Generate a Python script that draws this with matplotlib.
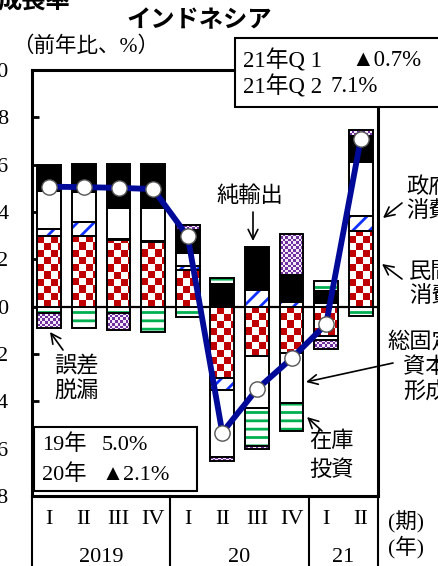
import numpy as np
import matplotlib
matplotlib.use("Agg")
import matplotlib.pyplot as plt
from matplotlib.colors import ListedColormap
from matplotlib.patches import Rectangle

# ---------------- data ----------------
quarters = ["I", "II", "III", "IV", "I", "II", "III", "IV", "I", "II"]
years = ["2019", "20", "21"]
year_spans = [(0, 3), (4, 7), (8, 9)]
gdp = [5.07, 5.05, 5.02, 4.97, 2.97, -5.32, -3.49, -2.19, -0.74, 7.07]
private_cons = [2.99, 2.97, 2.83, 2.75, 1.55, -3.00, -2.10, -1.95, -1.25, 3.20]
gov_cons = [0.28, 0.61, 0.05, 0.03, 0.18, -0.50, 0.72, 0.18, 0.17, 0.64]
gfcf = [1.62, 1.26, 1.31, 1.41, 0.55, -2.85, -2.18, -2.11, -0.14, 2.26]
net_exports = [1.08, 1.17, 1.85, 1.74, 0.97, 0.97, 1.82, 1.17, 0.49, 1.10]
inventory = [-0.27, -0.92, -0.27, -1.06, -0.43, 0.24, -1.60, -1.21, 0.42, -0.38]
errors = [-0.62, 0.00, -0.72, 0.11, 0.20, -0.17, -0.14, 1.73, -0.40, 0.28]
yticks = [-8, -6, -4, -2, 0, 2, 4, 6, 8, 10]
ytick_labels = ["▲8", "▲6", "▲4", "▲2", "0", "2", "4", "6", "8", "10"]

W, H = 438, 566
FONT = ["Liberation Serif", "Noto Sans CJK JP"]
GOTHIC = ["Noto Sans CJK JP"]
plt.rcParams["font.family"] = FONT
plt.rcParams["hatch.linewidth"] = 2.0

fig = plt.figure(figsize=(W / 100, H / 100), dpi=100)
ax = fig.add_axes([32 / W, 1 - 496 / H, (378 - 32) / W, (496 - 70) / H])
ax.set_xlim(-0.5, 9.5)
ax.set_ylim(-8, 10)

x = np.arange(len(gdp))
bw = 0.69


def checker(ax, rect, x0, y0, h, cw, ch, ncols, colors):
    nrows = int(np.ceil(abs(h) / ch)) + 1
    img = (np.add.outer(np.arange(nrows), np.arange(ncols)) % 2).astype(float)
    sgn = 1 if h >= 0 else -1
    y1 = y0 + sgn * nrows * ch
    if sgn > 0:
        ext = (x0, x0 + ncols * cw, y0, y1)
        origin = "lower"
    else:
        ext = (x0, x0 + ncols * cw, y1, y0)
        origin = "upper"
    im = ax.imshow(img, extent=ext, origin=origin, aspect="auto",
                   cmap=ListedColormap(colors), interpolation="nearest",
                   zorder=2, vmin=0, vmax=1)
    im.set_clip_path(rect)


components = [
    ("private", private_cons),
    ("gov", gov_cons),
    ("gfcf", gfcf),
    ("net", net_exports),
    ("inv", inventory),
    ("err", errors),
]

pos_base = np.zeros(len(gdp))
neg_base = np.zeros(len(gdp))
for name, vals in components:
    for i, v in enumerate(vals):
        if v == 0:
            continue
        b = pos_base[i] if v > 0 else neg_base[i]
        if v > 0:
            pos_base[i] += v
        else:
            neg_base[i] += v
        if name == "private":
            bars = ax.bar(x[i], v, bw, bottom=b, facecolor="white",
                          edgecolor="none", zorder=2)
            checker(ax, bars[0], x[i] - bw / 2, b, v, bw / 3.5, 0.3, 4,
                    ["white", "#C00000"])
        elif name == "err":
            bars = ax.bar(x[i], v, bw, bottom=b, facecolor="white",
                          edgecolor="none", zorder=2)
            checker(ax, bars[0], x[i] - bw / 2, b, v, bw / 9, 0.11, 9,
                    ["#7030A0", "#F4ECF8"])
        elif name == "gov":
            ax.bar(x[i], v, bw, bottom=b, facecolor="white", edgecolor="#1030FF",
                   hatch="//", linewidth=0, zorder=2)
        elif name == "inv":
            ax.bar(x[i], v, bw, bottom=b, facecolor="white", edgecolor="#00B050",
                   hatch="--", linewidth=0, zorder=2)
        elif name == "net":
            ax.bar(x[i], v, bw, bottom=b, facecolor="black", edgecolor="none",
                   zorder=2)
        else:
            ax.bar(x[i], v, bw, bottom=b, facecolor="white", edgecolor="none",
                   zorder=2)
        ax.bar(x[i], v, bw, bottom=b, facecolor="none", edgecolor="black",
               linewidth=1.4, zorder=3)

ax.axhline(0, color="black", lw=1.6, zorder=1.5)

ax.plot(x, gdp, color="#000A99", lw=4.2, zorder=5, solid_capstyle="round")
ax.plot(x, gdp, ls="none", marker="o", ms=11, mfc="white", mec="#555555",
        mew=1.0, zorder=6)

# axes styling
for s in ax.spines.values():
    s.set_linewidth(2.2)
ax.set_xticks([])
ax.set_yticks(yticks)
ax.set_yticklabels(ytick_labels)
ax.tick_params(axis="y", direction="in", length=5, width=2, pad=17,
               labelsize=16)

# category box below the axes
for xv in [-0.5, 3.5, 7.5, 9.5]:
    ax.plot([xv, xv], [-8, -11.5], color="black", lw=1.5, clip_on=False,
            zorder=4)
for i, q in enumerate(quarters):
    ax.text(x[i], -9.0, q, ha="center", va="center", fontsize=16,
            clip_on=False)
for lab, (a, b) in zip(years, year_spans):
    ax.text((x[a] + x[b]) / 2, -10.6, lab, ha="center", va="center",
            fontsize=16, clip_on=False)


def fx(px):
    return px / W


def fy(py):
    return 1 - py / H


fig.text(fx(388), fy(522), "(期)", fontsize=15.5, va="center", ha="left")
fig.text(fx(388), fy(547), "(年)", fontsize=15.5, va="center", ha="left")

# titles
fig.text(fx(70), fy(2), "成長率", fontsize=17.5, fontweight="bold",
         family=GOTHIC, ha="right", va="center")
fig.text(fx(199), fy(20), "インドネシア", fontsize=17.5, fontweight="bold",
         family=GOTHIC, ha="center", va="center")
fig.text(fx(12), fy(47), "（前年比、%）", fontsize=15.5, ha="left",
         va="center")

# top-right box
fig.patches.append(Rectangle((fx(235), fy(107)), fx(460) - fx(235),
                             fy(38) - fy(107), transform=fig.transFigure,
                             facecolor="white", edgecolor="black", lw=1.5,
                             zorder=7))
fig.text(fx(243), fy(61), "21年Q 1", fontsize=16.5, va="center", zorder=8)
fig.text(fx(351), fy(61), "▲0.7%", fontsize=16.5, va="center", zorder=8)
fig.text(fx(243), fy(87), "21年Q 2", fontsize=16.5, va="center", zorder=8)
fig.text(fx(331), fy(87), "7.1%", fontsize=16.5, va="center", zorder=8)

# bottom-left box
fig.patches.append(Rectangle((fx(34), fy(491)), fx(197) - fx(34),
                             fy(427) - fy(491), transform=fig.transFigure,
                             facecolor="white", edgecolor="black", lw=1.5,
                             zorder=7))
fig.text(fx(42), fy(445), "19年", fontsize=16, va="center", zorder=8)
fig.text(fx(102), fy(445), "5.0%", fontsize=16, va="center", zorder=8)
fig.text(fx(42), fy(475), "20年", fontsize=16, va="center", zorder=8)
fig.text(fx(102), fy(475), "▲2.1%", fontsize=16, va="center", zorder=8)

# annotations
TXT = dict(fontsize=16, va="center", ha="left", zorder=8)
fig.text(fx(216), fy(197), "純輸出", **TXT)
fig.text(fx(406), fy(188), "政府", **TXT)
fig.text(fx(406), fy(212), "消費", **TXT)
fig.text(fx(409), fy(273), "民間", **TXT)
fig.text(fx(409), fy(297), "消費", **TXT)
fig.text(fx(387), fy(342), "総固定", **TXT)
fig.text(fx(403), fy(368), "資本", **TXT)
fig.text(fx(403), fy(393), "形成", **TXT)
fig.text(fx(309), fy(442), "在庫", **TXT)
fig.text(fx(309), fy(471), "投資", **TXT)
fig.text(fx(54), fy(367), "誤差", **TXT)
fig.text(fx(54), fy(392), "脱漏", **TXT)

ARW = dict(arrowstyle="->,head_length=0.7,head_width=0.35", lw=1.2,
           color="black", shrinkA=0, shrinkB=0)


def arrow(tail, head):
    ax.annotate("", xy=(head[0], H - head[1]), xytext=(tail[0], H - tail[1]),
                xycoords="figure pixels", textcoords="figure pixels",
                arrowprops=ARW, annotation_clip=False, zorder=8)


arrow((253, 212), (253, 241))
arrow((402, 203), (383, 218))
arrow((402, 279), (382, 264))
arrow((393, 363), (306, 382))
arrow((322, 431), (307, 417))
arrow((63, 350), (50, 332))

fig.savefig("out.png", dpi=100)
